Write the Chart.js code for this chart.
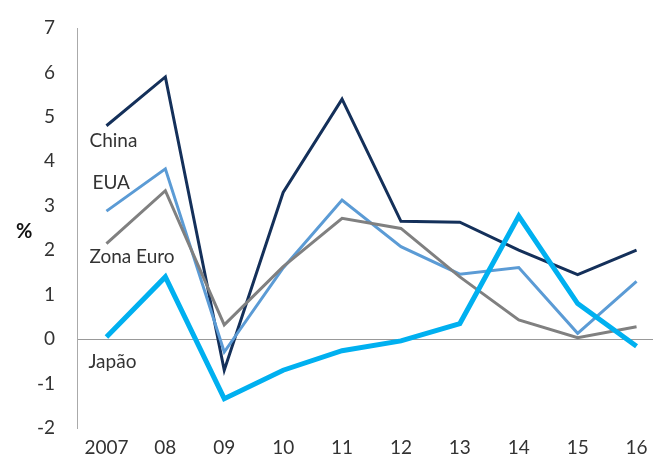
<!DOCTYPE html>
<html>
<head>
<meta charset="utf-8">
<script src="https://cdn.jsdelivr.net/npm/chart.js@4/dist/chart.umd.min.js"></script>
<style>
  html, body { margin: 0; padding: 0; background: #fff; overflow: hidden; }
  #wrap { width: 666px; height: 463px; }
</style>
</head>
<body>
<div id="wrap"><canvas id="myChart" width="666" height="463"></canvas></div>
<script>
let years = ["2007", "08", "09", "10", "11", "12", "13", "14", "15", "16"];
let china = [4.8, 5.9, -0.7, 3.3, 5.4, 2.65, 2.63, 2.0, 1.45, 2.0];
let eua = [2.88, 3.83, -0.29, 1.6, 3.13, 2.08, 1.46, 1.61, 0.13, 1.3];
let zonaEuro = [2.15, 3.34, 0.32, 1.63, 2.72, 2.49, 1.4, 0.43, 0.03, 0.28];
let japao = [0.05, 1.4, -1.34, -0.7, -0.26, -0.04, 0.35, 2.77, 0.8, -0.16];
let seriesNames = ["China", "EUA", "Zona Euro", "Japão"];
let yMin = -2;
let yMax = 7;

let fontFamily = "Lato, 'Open Sans', sans-serif";

// series names written next to the first point, plus the % title
let labelPlugin = {
  id: "seriesLabels",
  afterDraw(chart) {
    let ctx = chart.ctx;
    let x = chart.scales.x;
    let y = chart.scales.y;
    let left = x.getPixelForValue(0) - 17;
    ctx.save();
    ctx.fillStyle = "#333";
    ctx.font = "19px " + fontFamily;
    ctx.textBaseline = "middle";
    ctx.textAlign = "left";
    ctx.fillText(seriesNames[0], left, y.getPixelForValue(china[0]) + 15);
    ctx.fillText(seriesNames[1], left + 3, y.getPixelForValue(eua[0]) - 28);
    ctx.fillText(seriesNames[2], left, y.getPixelForValue(zonaEuro[0]) + 13);
    ctx.fillText(seriesNames[3], left - 1, y.getPixelForValue(japao[0]) + 25);
    ctx.font = "bold 20px " + fontFamily;
    ctx.fillStyle = "#111";
    ctx.fillText("%", 16, (y.top + y.bottom) / 2 + 4);
    ctx.restore();
  }
};

function makeLine(data, color, width) {
  return {
    data: data,
    borderColor: color,
    backgroundColor: color,
    borderWidth: width,
    pointRadius: 0,
    tension: 0,
    fill: false
  };
}

let ctx = document.getElementById("myChart").getContext("2d");
let chart = new Chart(ctx, {
  type: "line",
  data: {
    labels: years,
    datasets: [
      makeLine(japao, "#00b0f0", 5),
      makeLine(zonaEuro, "#808080", 3),
      makeLine(eua, "#5b9bd5", 3),
      makeLine(china, "#14305a", 3)
    ]
  },
  options: {
    responsive: false,
    animation: false,
    layout: { padding: { top: 28, left: 0, right: 0, bottom: 0 } },
    plugins: {
      legend: { display: false },
      tooltip: { enabled: false }
    },
    scales: {
      x: {
        offset: true,
        grid: { display: false },
        border: { display: false },
        ticks: {
          color: "#333",
          font: { family: fontFamily, size: 19 },
          padding: 0,
          maxRotation: 0,
          autoSkip: false
        },
        afterFit(scale) {
          scale.height = 35;
        }
      },
      y: {
        min: yMin,
        max: yMax,
        ticks: {
          stepSize: 1,
          color: "#333",
          font: { family: fontFamily, size: 19 },
          padding: 22
        },
        grid: {
          drawTicks: false,
          color: function (c) {
            return c.tick && c.tick.value === 0 ? "#999" : "rgba(0,0,0,0)";
          },
          lineWidth: 1
        },
        border: { display: true, color: "#aaa", width: 1 },
        afterFit(scale) {
          scale.width = 77;
          // tick padding would otherwise push the plot top down
          scale.paddingTop = 0;
          scale.paddingBottom = 0;
        }
      }
    }
  },
  plugins: [labelPlugin]
});
</script>
</body>
</html>
